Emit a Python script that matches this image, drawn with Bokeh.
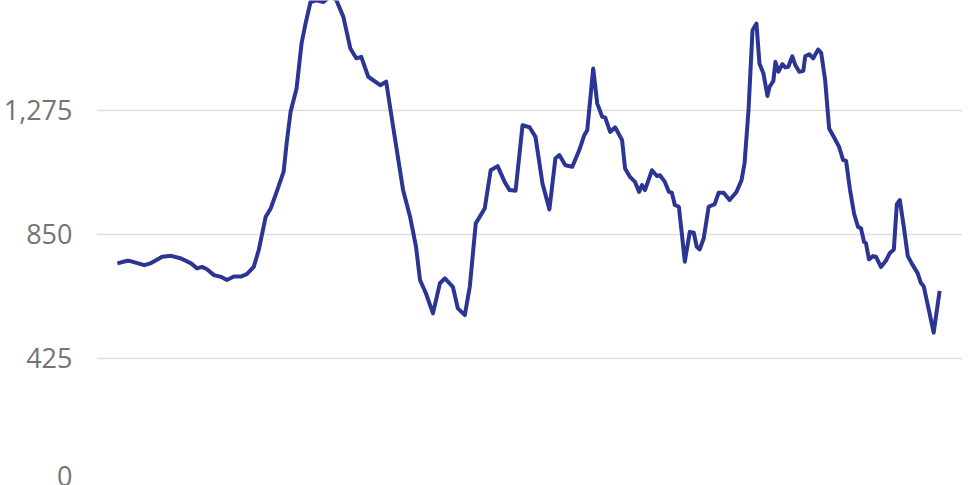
from bokeh.plotting import figure
from bokeh.models import Range1d, FixedTicker, NumeralTickFormatter, ColumnDataSource
from bokeh.embed import file_html
from bokeh.resources import INLINE

# time index (arbitrary units, evenly read across the chart)
t = [0, 10, 13, 27, 33, 45, 54, 64, 74, 80, 85, 90, 97, 104, 110, 117, 124, 130, 137,
     142, 149, 154, 160, 167, 170, 174, 180, 185, 189, 194, 200, 207, 214, 220, 227,
     234, 240, 245, 252, 264, 270, 277, 287, 294, 300, 304, 310, 317, 324, 329, 337,
     342, 349, 354, 360, 369, 375, 382, 389, 394, 400, 407, 414, 420, 427, 434, 440,
     444, 450, 457, 464, 469, 472, 478, 482, 487, 490, 495, 500, 507, 510, 515, 520,
     524, 527, 530, 537, 542, 545, 550, 554, 557, 560, 564, 567, 570, 575, 579, 582,
     585, 589, 594, 600, 604, 609, 615, 622, 627, 630, 634, 638, 642, 645, 649, 653,
     655, 659, 661, 664, 668, 671, 674, 678, 681, 685, 689, 691, 695, 699, 704, 707,
     711, 715, 720, 725, 729, 732, 736, 740, 744, 747, 750, 752, 755, 759, 762, 767,
     772, 776, 780, 783, 786, 790, 794, 799, 804, 807, 810, 815, 820, 826]
values = [750, 759, 758, 744, 750, 773, 776, 767, 750, 733, 738, 730, 710, 704, 693,
          705, 705, 713, 738, 796, 910, 938, 995, 1064, 1161, 1269, 1349, 1503, 1571,
          1645, 1651, 1645, 1665, 1651, 1594, 1486, 1452, 1457, 1389, 1360, 1372, 1218,
          1001, 910, 807, 693, 647, 579, 682, 699, 670, 596, 573, 670, 887, 938, 1069,
          1083, 1029, 1001, 999, 1223, 1216, 1183, 1024, 935, 1109, 1121, 1086, 1081,
          1138, 1189, 1206, 1417, 1298, 1252, 1250, 1200, 1216, 1172, 1075, 1046, 1029,
          995, 1018, 1001, 1069, 1049, 1052, 1029, 995, 992, 950, 944, 853, 756, 858,
          855, 807, 798, 836, 944, 953, 992, 992, 967, 995, 1035, 1092, 1275, 1548,
          1571, 1434, 1400, 1323, 1354, 1375, 1440, 1406, 1432, 1421, 1423, 1459, 1429,
          1406, 1409, 1459, 1466, 1452, 1482, 1471, 1377, 1212, 1181, 1149, 1104, 1101,
          1001, 921, 875, 870, 824, 819, 764, 775, 773, 738, 759, 786, 798, 953, 967,
          875, 775, 744, 716, 684, 672, 593, 513, 656]
y_ticks = [0, 425, 850, 1275, 1700]

src = ColumnDataSource(data=dict(t=t, v=values))
span = t[-1] - t[0]

p = figure(width=962, height=485, output_backend="svg", toolbar_location=None,
           x_range=Range1d(t[0] - 0.0254 * span, t[-1] + 0.0278 * span),
           y_range=Range1d(0, 1650),
           min_border_left=92, min_border_right=0, min_border_top=0, min_border_bottom=3)
p.outline_line_color = None
p.background_fill_color = "white"
p.border_fill_color = "white"

p.xaxis.visible = False
p.xgrid.grid_line_color = None

p.yaxis.ticker = FixedTicker(ticks=y_ticks)
p.yaxis.formatter = NumeralTickFormatter(format="0,0")
p.yaxis.axis_line_color = None
p.yaxis.major_tick_line_color = None
p.yaxis.minor_tick_line_color = None
p.yaxis.major_label_text_font = "Open Sans"
p.yaxis.major_label_text_font_size = "27px"
p.yaxis.major_label_text_color = "#747474"
p.yaxis.major_label_standoff = 18

p.ygrid.ticker = FixedTicker(ticks=y_ticks)
p.ygrid.grid_line_color = "#dedede"
p.ygrid.grid_line_width = 1.5

p.line("t", "v", source=src, line_color="#2b3593", line_width=4, line_join="round")

open("out.html", "w").write(file_html(p, INLINE))
